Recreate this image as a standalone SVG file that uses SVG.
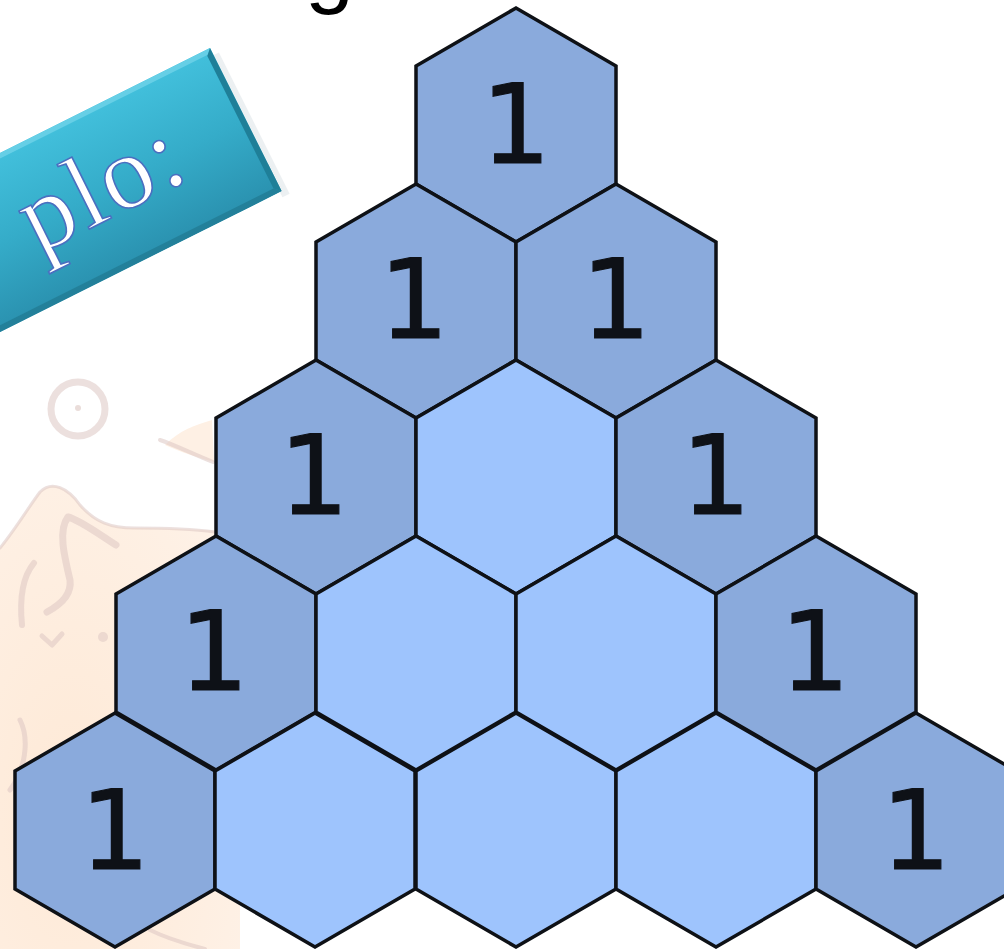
<svg xmlns="http://www.w3.org/2000/svg" xmlns:xlink="http://www.w3.org/1999/xlink" width="1004" height="949" viewBox="0 0 1004 949">
  <style>
    .edge { fill: #8AAADC; stroke: #0E1116; stroke-width: 3.5; stroke-linejoin: miter; }
    .inner { fill: #9EC4FD; stroke: #0E1116; stroke-width: 3.5; stroke-linejoin: miter; }
    .num { font-family: "DejaVu Sans", sans-serif; font-size: 110px; fill: #0E1117; stroke: #0E1117; stroke-width: 1.2; text-anchor: middle; }
    .doodle { fill: none; stroke: #DCC6C2; stroke-linecap: round; stroke-linejoin: round; opacity: 0.55; }
  </style>
  <defs>
    <path id="hex" d="M0,-117 L100,-59 L100,59 L0,117 L-100,59 L-100,-59 Z"/>
    <linearGradient id="banner" x1="0" y1="0" x2="0" y2="1">
      <stop offset="0" stop-color="#42C0DC"/>
      <stop offset="0.5" stop-color="#35ACC9"/>
      <stop offset="1" stop-color="#2A91AF"/>
    </linearGradient>
    <radialGradient id="peach" cx="0.3" cy="0.7" r="0.8">
      <stop offset="0" stop-color="#FEE9D6"/>
      <stop offset="1" stop-color="#FEF1E6"/>
    </radialGradient>
  </defs>

  <rect width="1004" height="949" fill="#FFFFFF"/>

  <!-- faint background decoration -->
  <g id="background">
    <path d="M0,548 C15,530 30,505 40,492 C52,480 68,488 80,505 C95,522 110,528 135,528 C170,528 200,530 240,532 L240,949 L0,949 Z" fill="url(#peach)"/>
    <path d="M165,445 C180,430 195,425 212,420 L214,462 C200,458 180,452 165,445 Z" fill="#FEF0E4"/>
    <circle cx="78" cy="409" r="27" fill="#FEF3E8" class="doodle" stroke-width="7"/>
    <circle cx="78" cy="408" r="3" fill="#DCC6C2" opacity="0.6"/>
    <path class="doodle" stroke-width="3" d="M0,548 C15,530 30,505 40,492 C52,480 68,488 80,505 C95,522 110,528 135,528 C170,528 200,530 215,532"/>
    <path class="doodle" stroke-width="7" d="M116,545 C100,535 80,520 68,517 C58,530 64,555 70,580 C72,595 60,605 47,612"/>
    <path class="doodle" stroke-width="6" d="M34,563 C24,575 19,595 22,625"/>
    <path class="doodle" stroke-width="5" d="M42,636 L52,645 L62,634"/>
    <circle cx="103" cy="637" r="5" fill="#DCC6C2" opacity="0.5"/>
    <path class="doodle" stroke-width="4" d="M160,440 C175,445 195,455 213,462"/>
    <path class="doodle" stroke-width="5" d="M20,720 C30,740 25,770 10,790"/>
    <path class="doodle" stroke-width="4" d="M150,930 C170,940 190,945 205,949"/>
  </g>

  <!-- partial title letter -->
  <text id="title" x="305" y="-3" font-family="Liberation Sans, Arial, sans-serif" font-size="88" fill="#000000">g</text>

  <!-- banner -->
  <g id="banner-label" transform="translate(210,48) rotate(-26.57)">
    <rect x="-2" y="8" width="8" height="158" fill="#D4DEE2" opacity="0.45"/>
    <rect x="-440" y="0" width="440" height="160" fill="url(#banner)"/>
    <polygon points="-440,0 0,0 -5,5 -440,5" fill="#66CFE6"/>
    <polygon points="0,0 0,160 -6,154 -6,6" fill="#1F7F98"/>
    <polygon points="-440,160 0,160 -6,154 -440,154" fill="#23809A"/>
    <text x="-246" y="108" font-family="Liberation Serif, Times New Roman, serif" font-size="104" fill="#FFFFFF" stroke="#4A6FC0" stroke-width="1.6" letter-spacing="3">plo:</text>
  </g>

  <!-- hexagon nodes -->
  <g id="r0c0"><use xlink:href="#hex" x="516" y="125" class="edge"/><text class="num" x="516" y="163">1</text></g>

  <g id="r1c0"><use xlink:href="#hex" x="416" y="301" class="edge"/><text class="num" x="414" y="338">1</text></g>
  <g id="r1c1"><use xlink:href="#hex" x="616" y="301" class="edge"/><text class="num" x="616" y="338">1</text></g>

  <g id="r2c0"><use xlink:href="#hex" x="316" y="477" class="edge"/><text class="num" x="314" y="514">1</text></g>
  <g id="r2c1"><use xlink:href="#hex" x="516" y="477" class="inner"/></g>
  <g id="r2c2"><use xlink:href="#hex" x="716" y="477" class="edge"/><text class="num" x="716" y="514">1</text></g>

  <g id="r3c0"><use xlink:href="#hex" x="216" y="653" class="edge"/><text class="num" x="214" y="690">1</text></g>
  <g id="r3c1"><use xlink:href="#hex" x="416" y="653" class="inner"/></g>
  <g id="r3c2"><use xlink:href="#hex" x="616" y="653" class="inner"/></g>
  <g id="r3c3"><use xlink:href="#hex" x="816" y="653" class="edge"/><text class="num" x="815" y="690">1</text></g>

  <g id="r4c0"><use xlink:href="#hex" x="115" y="830" class="edge"/><text class="num" x="115" y="869">1</text></g>
  <g id="r4c1"><use xlink:href="#hex" x="315" y="830" class="inner"/></g>
  <g id="r4c2"><use xlink:href="#hex" x="516" y="830" class="inner"/></g>
  <g id="r4c3"><use xlink:href="#hex" x="716" y="830" class="inner"/></g>
  <g id="r4c4"><use xlink:href="#hex" x="916" y="830" class="edge"/><text class="num" x="916" y="869">1</text></g>

  <g id="connectors"></g>
</svg>
